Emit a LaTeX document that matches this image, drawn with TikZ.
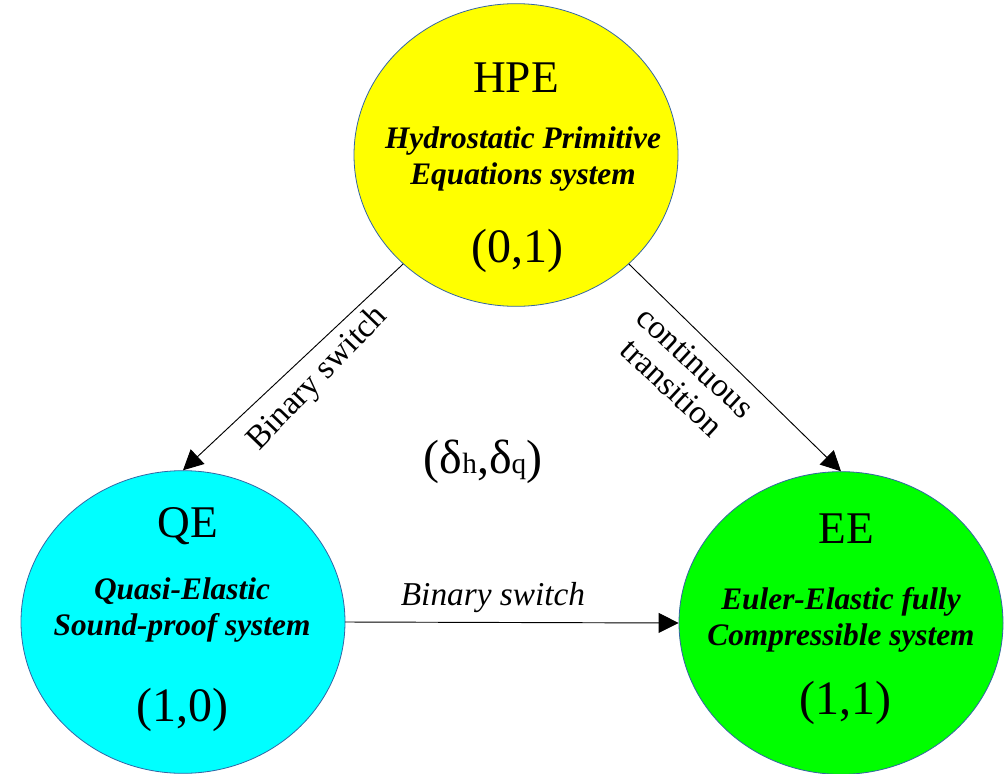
\documentclass[tikz,border=0pt]{standalone}
\usepackage{fontspec}
\setmainfont{Liberation Serif}
\usetikzlibrary{arrows.meta,shapes.geometric}
\definecolor{rim}{RGB}{52,101,164}
\definecolor{hpefill}{RGB}{255,255,0}
\definecolor{qefill}{RGB}{0,255,255}
\definecolor{eefill}{RGB}{0,255,0}

\begin{document}
\begin{tikzpicture}[x=0.75pt, y=-0.75pt, line cap=round, line join=round,
  >={Triangle[length=15pt,width=15pt]},
  regime/.style={ellipse, draw=rim, line width=0.6pt, minimum width=243pt, minimum height=227pt, inner sep=0pt},
  acro/.style={font=\fontsize{34}{40}\selectfont},
  desc/.style={font=\fontsize{23.5}{27}\selectfont\bfseries\itshape, align=center},
  pair/.style={font=\fontsize{36}{40}\selectfont},
  lbl/.style={font=\fontsize{25}{26}\selectfont, align=center, inner sep=0pt}]

\useasboundingbox (0,0) rectangle (1007,774);

% the three regimes
\node[regime, fill=hpefill] (hpe) at (516,155) {};
\node[regime, fill=qefill]  (qe)  at (183,622) {};
\node[regime, fill=eefill]  (ee)  at (841,623) {};

\node[acro] (hpe-name) at (516,78) {HPE};
\node[desc] (hpe-desc) at (523,159) {Hydrostatic Primitive\\Equations system};
\node[pair] (hpe-pair) at (517,251) {(0,1)};

\node[acro] (qe-name) at (188,526) {QE};
\node[desc] (qe-desc) at (182,610) {Quasi-Elastic\\Sound-proof system};
\node[pair] (qe-pair) at (182,710) {(1,0)};

\node[acro] (ee-name) at (846,529) {EE};
\node[desc] (ee-desc) at (841,620) {Euler-Elastic fully\\Compressible system};
\node[pair] (ee-pair) at (845,703) {(1,1)};

% transitions
\draw[->, line width=0.7pt] (hpe.224) -- (qe.north);
\draw[->, line width=0.7pt] (hpe.316) -- (ee.north);
\draw[->, line width=0.7pt] (qe.east) -- (ee.west);

\node[lbl, rotate=46] (bs-left) at (318,379) {Binary switch};
\node[lbl, rotate=-43] (ct-right) at (684,375) {continuous\\transition};
\node[lbl, font=\fontsize{25}{26}\selectfont\itshape] (bs-low) at (493,598) {Binary switch};

\node[pair] (deltas) at (483,462) {(δ{\fontsize{22}{24}\selectfont h},δ{\fontsize{22}{24}\selectfont q})};

\end{tikzpicture}
\end{document}
